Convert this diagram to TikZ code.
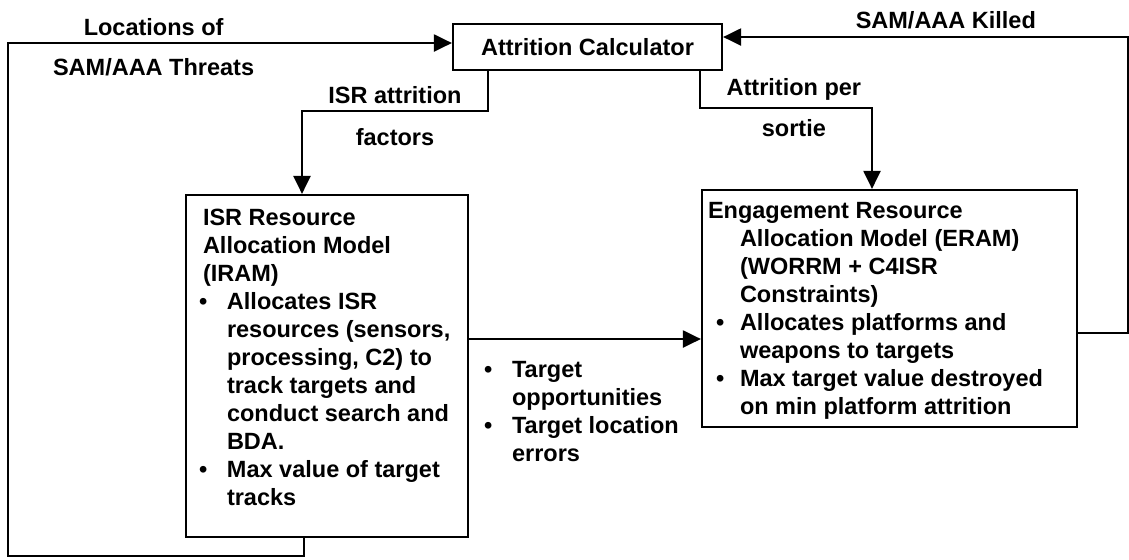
\documentclass[tikz,border=0pt]{standalone}
\usepackage{fontspec}
\setmainfont{Liberation Sans}
\usetikzlibrary{arrows.meta}
\newcommand{\itembul}[1][12pt]{\makebox[#1][l]{\hspace*{-2pt}\textbullet}}
\newcommand{\itemind}[1][12pt]{\hspace*{#1}}

\begin{document}
\begin{tikzpicture}[x=0.5pt, y=-0.5pt, line width=1.1pt,
    every node/.style={font=\bfseries\fontsize{11.75pt}{14pt}\selectfont},
    box/.style={draw, inner sep=0pt},
    txt/.style={align=left, inner sep=0pt, anchor=north west},
    arr/.style={-{Triangle[length=9pt,width=8.5pt]}}]
    \useasboundingbox (0,0) rectangle (1129,559);

    % the three models
    \node[box, minimum width=134.5pt, minimum height=23pt] (calc) at (587.5,47) {Attrition Calculator};
    \node[box, minimum width=141pt, minimum height=171pt] (iram) at (327,366) {};
    \node[box, minimum width=187.5pt, minimum height=118.5pt] (eram) at (889.5,308.5) {};

    \node[txt] (iramtxt) at ([xshift=8.5pt, yshift=-7pt]iram.north west)
        {ISR Resource\\Allocation Model\\(IRAM)\\
         \itembul Allocates ISR\\\itemind resources (sensors,\\\itemind processing, C2) to\\
         \itemind track targets and\\\itemind conduct search and\\\itemind BDA.\\
         \itembul Max value of target\\\itemind tracks};
    \node[txt] (eramtxt) at ([xshift=3pt, yshift=-6pt]eram.north west)
        {Engagement Resource\\\itemind[16pt]Allocation Model (ERAM)\\
         \itemind[16pt](WORRM + C4ISR\\\itemind[16pt]Constraints)\\
         \itemind[6pt]\itembul[10pt]Allocates platforms and\\\itemind[16pt]weapons to targets\\
         \itemind[6pt]\itembul[10pt]Max target value destroyed\\\itemind[16pt]on min platform attrition};
    \node[txt] (opps) at (487,360)
        {\itembul Target\\\itemind opportunities\\\itembul Target location\\\itemind errors};

    % flows
    \coordinate (m) at ([yshift=13.5pt]iram.east);
    \draw[arr] (m) -- (m -| eram.west);
    \draw[arr] ([xshift=-49.75pt]calc.south) -- ++(0,40) -| ([xshift=-12.5pt]iram.north)
        node[pos=0.25, above] {ISR attrition} node[pos=0.25, below=5pt] {factors};
    \draw[arr] ([xshift=56.25pt]calc.south) -- ++(0,37) -| ([xshift=-8.75pt]eram.north)
        node[pos=0.273, above] {Attrition per} node[pos=0.273, below=2pt] {sortie};

    % feedback loops
    \draw[arr] ([xshift=-11.5pt]iram.south) |- (8,556) |- ([yshift=2pt]calc.west)
        node[pos=0.664, above] {Locations of} node[pos=0.664, below=4pt] {SAM/AAA Threats};
    \coordinate (r) at ([yshift=-12.25pt]eram.east);
    \draw[arr] (r) -- ++(50,0) |- ([yshift=5pt]calc.east)
        node[pos=0.725, above] {SAM/AAA Killed};
\end{tikzpicture}
\end{document}
